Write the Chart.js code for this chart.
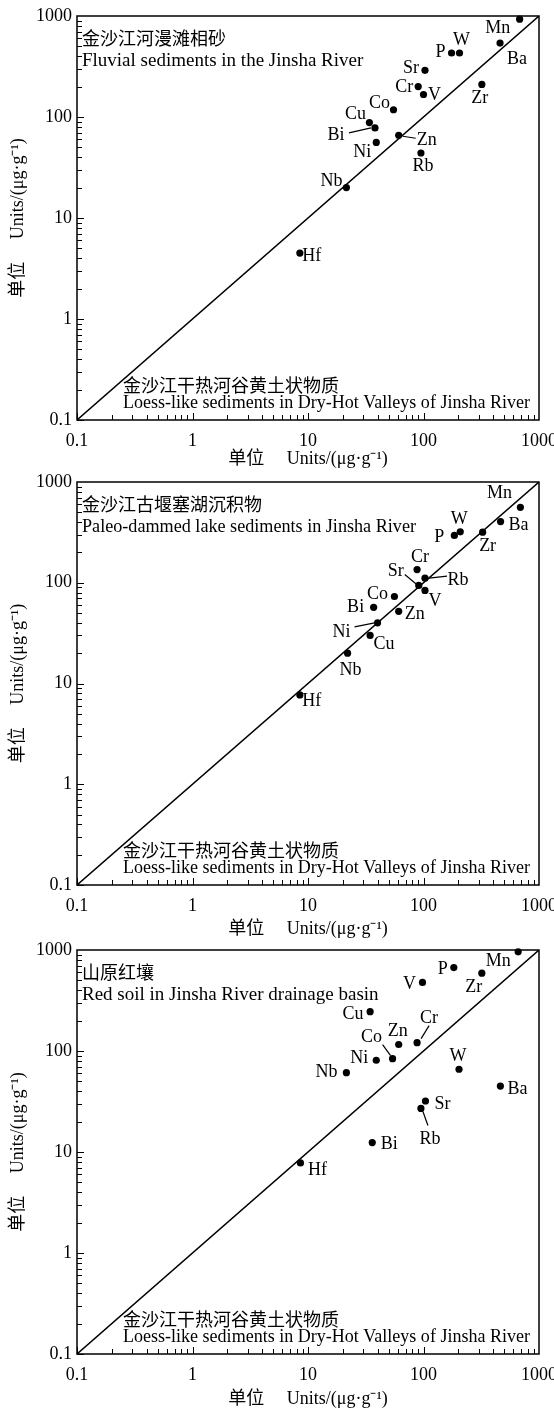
<!DOCTYPE html>
<html><head><meta charset="utf-8">
<script src="https://cdn.jsdelivr.net/npm/chart.js@4.4.0/dist/chart.umd.min.js"></script>
<style>
html,body{margin:0;padding:0;background:#fff;}
#wrap{position:relative;width:554px;height:1411px;overflow:hidden;background:#fff;}
canvas{position:absolute;left:0;}
</style></head><body>
<div id="wrap">
<canvas id="c1" width="554" height="470" style="top:0px"></canvas>
<canvas id="c2" width="554" height="470" style="top:470px"></canvas>
<canvas id="c3" width="554" height="471" style="top:940px"></canvas>
</div>
<script>
// ---------------- data ----------------
const elements = ['Mn','Ba','W','P','Sr','Zr','Cr','V','Co','Cu','Bi','Zn','Ni','Rb','Nb','Hf'];

// Panel 1: fluvial sediments (y) vs loess-like sediments (x)
const fluvialX = [680, 460, 205, 175, 103, 320, 90, 100, 55, 34, 38, 61, 39, 95, 21.5, 8.5];
const fluvialY = [930, 540, 430, 430, 290, 210, 200, 167, 118, 88, 78, 66, 56, 44, 20, 4.5];

// Panel 2: paleo-dammed lake sediments (y) vs loess-like sediments (x)
const lakeX = [690, 465, 208, 185, 91, 325, 88, 103, 56, 34.5, 37, 61, 40, 103, 22, 8.5];
const lakeY = [560, 405, 320, 295, 94, 318, 135, 84, 73, 30, 57, 52, 40, 111, 20, 7.7];

// Panel 3: red soil (y) vs loess-like sediments (x)
const redX = [660, 463, 203, 183, 104, 320, 88, 98, 54, 34.5, 36, 61, 39, 95, 21.5, 8.6];
const redY = [960, 45, 66, 670, 32, 590, 121, 477, 84, 245, 12.4, 116, 81, 27, 61, 7.8];

const tickValues = [0.1, 1, 10, 100, 1000];
const tickLabels = ['0.1', '1', '10', '100', '1000'];
const axisMin = 0.1, axisMax = 1000;

const axisTitle = '单位\u3000 Units/(μg·g\u207B\u00B9)';
const refTitleZh = '金沙江干热河谷黄土状物质';
const refTitleEn = 'Loess-like sediments in Dry-Hot Valleys of Jinsha River';
const panelTitlesZh = ['金沙江河漫滩相砂', '金沙江古堰塞湖沉积物', '山原红壤'];
const panelTitlesEn = ['Fluvial sediments in the Jinsha River', 'Paleo-dammed lake sediments in Jinsha River', 'Red soil in Jinsha River drainage basin'];

// ---------------- layout / style (not data) ----------------
const SERIF = '"Liberation Serif", "Times New Roman", serif';
const ZH = '"Noto Sans CJK SC", "Liberation Serif", serif';
const MIXED = '"Liberation Serif", "Noto Sans CJK SC", serif';

// label offsets relative to the point [dx, dy], optional leader [x1,y1,x2,y2]
const labelLayout = [
  { Mn:[-22,9], Ba:[17,16], W:[2,-13], P:[-11,-1], Sr:[-14,-2], Zr:[-2,14], Cr:[-14,1], V:[11,1],
    Co:[-14,-6], Cu:[-14,-8], Bi:[-39,7,-26,5,-4,0], Zn:[28,5,4,1,17,3], Ni:[-14,10], Rb:[2,13], Nb:[-15,-6], Hf:[12,3] },
  { Mn:[-21,-14], Ba:[18,4], W:[-1,-13], P:[-15,2], Zr:[5,14], Cr:[3,-12], Sr:[-23,-14,-14,-11,-2,-1],
    Rb:[33,2,4,0,22,-2], V:[10,11], Co:[-17,-2], Bi:[-18,0], Zn:[16,3], Ni:[-36,9,-23,4,-3,0], Cu:[14,9], Nb:[3,17], Hf:[12,6] },
  { Mn:[-20,9], P:[-11,2], Zr:[-8,14], V:[-13,2], Cu:[-17,3], Zn:[-1,-13], Cr:[12,-24,4,-4,12,-17],
    Co:[-21,-21,-10,-14,-2,-3], Ni:[-17,-2], Nb:[-20,0], W:[-1,-13], Ba:[17,3], Sr:[17,3], Rb:[9,31,2,3,7,17], Bi:[17,2], Hf:[17,7] }
];

const panels = [
  { id:'c1', xs:fluvialX, ys:fluvialY, top:16, bottom:420, h:470, titlePad:0, enW:284, zhIdx:0 },
  { id:'c2', xs:lakeX, ys:lakeY, top:12, bottom:415, h:470, titlePad:0, enW:334, zhIdx:1 },
  { id:'c3', xs:redX, ys:redY, top:10, bottom:414, h:471, titlePad:1, enW:300, zhIdx:2 }
];

const decorPlugin = {
  id: 'decor',
  afterDraw(chart) {
    const cfg = chart.options.plugins.decor;
    const ctx = chart.ctx;
    const a = chart.chartArea;
    const xs = chart.scales.x, ys = chart.scales.y;
    ctx.save();
    ctx.strokeStyle = '#000';
    ctx.fillStyle = '#000';
    // inward ticks
    ctx.lineWidth = 1;
    for (let e = -1; e <= 2; e++) {
      for (let k = 1; k <= 9; k++) {
        const v = k * Math.pow(10, e);
        const len = k === 1 ? 7 : 5;
        const px = Math.round(xs.getPixelForValue(v)) + 0.5;
        const py = Math.round(ys.getPixelForValue(v)) + 0.5;
        ctx.beginPath();
        ctx.moveTo(px, a.bottom); ctx.lineTo(px, a.bottom - len);
        ctx.moveTo(a.left, py); ctx.lineTo(a.left + len, py);
        ctx.stroke();
      }
    }
    // frame
    ctx.lineWidth = 1.5;
    ctx.strokeRect(a.left, a.top, a.right - a.left, a.bottom - a.top);
    // annotations
    ctx.textBaseline = 'middle';
    ctx.textAlign = 'left';
    ctx.font = '18px ' + ZH;
    ctx.fillText(panelTitlesZh[cfg.zhIdx], a.left + 5, a.top + 22);
    ctx.font = '19px ' + SERIF;
    ctx.fillText(panelTitlesEn[cfg.zhIdx], a.left + 5, a.top + 45, cfg.enW);
    ctx.font = '18px ' + ZH;
    ctx.fillText(refTitleZh, a.left + 46, a.bottom - 35);
    ctx.font = '19px ' + SERIF;
    ctx.fillText(refTitleEn, a.left + 46, a.bottom - 17, 407);
    // point labels
    const meta = chart.getDatasetMeta(1);
    const lay = labelLayout[cfg.zhIdx];
    ctx.font = '18px ' + SERIF;
    ctx.textAlign = 'center';
    ctx.lineWidth = 1.2;
    elements.forEach((el, i) => {
      const pt = meta.data[i];
      const o = lay[el];
      if (!pt || !o) return;
      ctx.fillText(el, pt.x + o[0], pt.y + o[1]);
      if (o.length > 2) {
        ctx.beginPath();
        ctx.moveTo(pt.x + o[2], pt.y + o[3]);
        ctx.lineTo(pt.x + o[4], pt.y + o[5]);
        ctx.stroke();
      }
    });
    ctx.restore();
  }
};

function makeScale(axis, p) {
  return {
    type: 'logarithmic',
    min: axisMin, max: axisMax,
    position: axis === 'x' ? 'bottom' : 'left',
    grid: { display: false, drawTicks: false },
    border: { display: false },
    afterBuildTicks(s) { s.ticks = tickValues.map(v => ({ value: v })); },
    ticks: {
      autoSkip: false, maxRotation: 0, color: '#000',
      padding: axis === 'x' ? 10 : 5,
      font: { family: SERIF, size: 18 },
      callback: (v) => { const i = tickValues.findIndex(t => Math.abs(t - v) < 1e-9); return i >= 0 ? tickLabels[i] : ''; }
    },
    title: {
      display: true, text: axisTitle, color: '#000',
      font: { family: MIXED, size: 18 },
      padding: axis === 'x' ? { top: 0, bottom: p.titlePad } : { top: 7, bottom: 0 }
    },
    afterFit(s) {
      if (axis === 'x') s.height = p.h - p.bottom; else s.width = 77;
      s.paddingLeft = 0; s.paddingRight = 0; s.paddingTop = 0; s.paddingBottom = 0;
    }
  };
}

panels.forEach(p => {
  const pts = p.xs.map((x, i) => ({ x, y: p.ys[i] }));
  new Chart(document.getElementById(p.id), {
    type: 'scatter',
    data: {
      datasets: [
        { type: 'line', data: [{ x: axisMin, y: axisMin }, { x: axisMax, y: axisMax }],
          borderColor: '#000', borderWidth: 1.5, pointRadius: 0, fill: false },
        { data: pts, backgroundColor: '#000', borderWidth: 0, pointRadius: 3.6, clip: false }
      ]
    },
    options: {
      responsive: false, animation: false, devicePixelRatio: 1,
      layout: { padding: { top: p.top, right: 15, bottom: 0, left: 0 } },
      plugins: { legend: { display: false }, tooltip: { enabled: false }, decor: { zhIdx: p.zhIdx, enW: p.enW } },
      scales: { x: makeScale('x', p), y: makeScale('y', p) }
    },
    plugins: [decorPlugin]
  });
});
</script>
</body></html>
